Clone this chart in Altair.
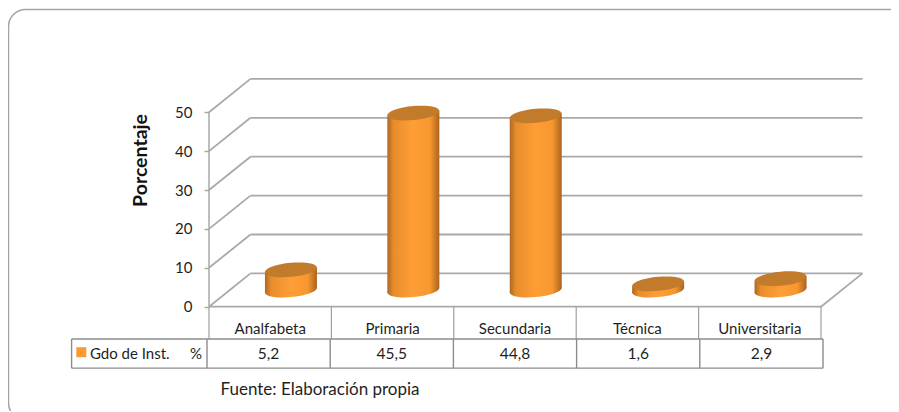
import altair as alt
import pandas as pd

categories = ["Analfabeta", "Primaria", "Secundaria", "Técnica", "Universitaria"]
values = [5.2, 45.5, 44.8, 1.6, 2.9]
value_labels = ["5,2", "45,5", "44,8", "1,6", "2,9"]
ticks = [0, 10, 20, 30, 40, 50]

W, H = 883, 403
UX, UY = 122.4, 3.89          # px per category slot / per percent
X0, Y0 = 201.0, 298.7         # canvas position of slot 0 / value 0
DX, DY = 41.5 / UX, 33.3 / UY  # depth of the floor, in data units
xs = alt.Scale(domain=[-X0 / UX, (W - X0) / UX], range=[0, W], nice=False, zero=False)
ys = alt.Scale(domain=[-(H - Y0) / UY, Y0 / UY], range=[H, 0], nice=False, zero=False)
GRID = "#a9a9a9"
FONT = "Lato"
TXT = "#1f1f1f"
HALF = 26 / UX
TILT = 2.4 / UY


def ellipse_path(s=0.09, b=0.27, k=0.5523):
    def p(x, y):
        return f"{x:.4f},{y - s * x:.4f}"
    return ("M" + p(-1, 0) + "C" + p(-1, -k * b) + " " + p(-k, -b) + " " + p(0, -b)
            + "C" + p(k, -b) + " " + p(1, -k * b) + " " + p(1, 0)
            + "C" + p(1, k * b) + " " + p(k, b) + " " + p(0, b)
            + "C" + p(-k, b) + " " + p(-1, k * b) + " " + p(-1, 0) + "Z")


ELL = ellipse_path()
grad = alt.LinearGradient(
    gradient="linear", x1=0, x2=1, y1=0, y2=0,
    stops=[
        alt.GradientStop(color="#ad6821", offset=0),
        alt.GradientStop(color="#e88d2d", offset=0.12),
        alt.GradientStop(color="#ff9e35", offset=0.5),
        alt.GradientStop(color="#f7972f", offset=0.82),
        alt.GradientStop(color="#a9641f", offset=1),
    ],
)


def X(f="x", **k):
    return alt.X(f, type="quantitative", scale=xs, axis=None, **k)


def Y(f="y", **k):
    return alt.Y(f, type="quantitative", scale=ys, axis=None, **k)


frame = alt.Chart(pd.DataFrame({"a": [1]})).mark_rect(
    fillOpacity=0, stroke="#a4a4a4", strokeWidth=1.5, cornerRadius=17
).encode(x=alt.value(0.5), x2=alt.value(904), y=alt.value(1.5), y2=alt.value(412))

back = pd.DataFrame({"x": [DX] * len(ticks), "x2": [5 + DX] * len(ticks), "y": [t + DY for t in ticks]})
back_rules = alt.Chart(back).mark_rule(color=GRID, strokeWidth=1.8).encode(
    x=X(), x2="x2", y=Y())

side = pd.DataFrame({"x": [0.0] * len(ticks), "x2": [DX] * len(ticks),
                     "y": [float(t) for t in ticks], "y2": [t + DY for t in ticks]})
side_rules = alt.Chart(side).mark_rule(color=GRID, strokeWidth=1.8).encode(
    x=X(), x2="x2", y=Y(), y2="y2")

right_floor = alt.Chart(pd.DataFrame({"x": [5.0], "x2": [5 + DX], "y": [0.0], "y2": [DY]})).mark_rule(
    color=GRID, strokeWidth=1.8).encode(x=X(), x2="x2", y=Y(), y2="y2")
wall = alt.Chart(pd.DataFrame({"x": [0.0], "y": [0.0], "y2": [50.0]})).mark_rule(
    color=GRID, strokeWidth=1.5).encode(x=X(), y=Y(), y2="y2")
front = alt.Chart(pd.DataFrame({"x": [0.0], "x2": [5.0], "y": [0.0]})).mark_rule(
    color=GRID, strokeWidth=1.8).encode(x=X(), x2="x2", y=Y())

# table
ROW1, ROW2 = -8.3, -15.8
TX0, TX1 = -137.4 / UX, 5 + 2 / UX
TS = 123.2 / 122.4
cat_lines = alt.Chart(pd.DataFrame({"x": [float(i) for i in range(6)], "y": [0.0] * 6, "y2": [ROW1] * 6})).mark_rule(
    color="#a0a0a0", strokeWidth=1.2).encode(x=X(), y=Y(), y2="y2")
row_edges = [TX0] + [-2 / UX + i * TS for i in range(6)]
row_lines = alt.Chart(pd.DataFrame({"x": row_edges, "y": [ROW1] * 7, "y2": [ROW2] * 7})).mark_rule(
    color="#8c8c8c", strokeWidth=1.4).encode(x=X(), y=Y(), y2="y2")
row_h = alt.Chart(pd.DataFrame({"x": [TX0, TX0], "x2": [TX1, TX1], "y": [ROW1, ROW2]})).mark_rule(
    color="#8c8c8c", strokeWidth=1.4).encode(x=X(), x2="x2", y=Y())

df = pd.DataFrame({"name": categories, "v": values, "lab": value_labels})
df["x"] = [i + 0.5 + DX / 2 for i in range(5)]
df["base"] = DY / 2
df["top"] = df["v"] + DY / 2
df["cx"] = [i + 0.5 for i in range(5)]
df["cy"] = (ROW1 / 2) - 1.5
df["rx"] = [-2 / UX + (i + 0.5) * TS for i in range(5)]
df["ry"] = (ROW1 + ROW2) / 2 - 0.1

body_rows = []
for _, r in df.iterrows():
    body_rows.append({"name": r["name"], "x": r["x"] - HALF, "y": r["top"] - TILT, "y2": r["base"] - TILT})
    body_rows.append({"name": r["name"], "x": r["x"] + HALF, "y": r["top"] + TILT, "y2": r["base"] + TILT})
bodies = alt.Chart(pd.DataFrame(body_rows)).mark_area(fill=grad, opacity=1).encode(
    x=X(), y=Y(), y2="y2", detail="name:N")

bottoms = alt.Chart(df).mark_point(shape=ELL, size=52 * 52, filled=True, fill=grad, opacity=1, strokeWidth=0).encode(
    x=X(), y=Y("base"))
tops = alt.Chart(df).mark_point(shape=ELL, size=52 * 52, filled=True, fill="#c27a2b", opacity=1, strokeWidth=0).encode(
    x=X(), y=Y("top"))

cat_text = alt.Chart(df).mark_text(font=FONT, fontSize=15, color=TXT).encode(
    x=X("cx"), y=Y("cy"), text="name:N")
val_text = alt.Chart(df).mark_text(font=FONT, fontSize=15.5, color=TXT).encode(
    x=X("rx"), y=Y("ry"), text="lab:N")

leg = pd.DataFrame({"x": [-127.7 / UX], "y": [(ROW1 + ROW2) / 2 + 0.35]})
key = alt.Chart(leg).mark_square(size=100, color="#fb9a32", opacity=1).encode(x=X(), y=Y())
leg_txt = alt.Chart(pd.DataFrame({"x": [-119.0 / UX], "y": [(ROW1 + ROW2) / 2 - 0.1], "t": ["Gdo de Inst."]})).mark_text(
    font=FONT, fontSize=15, color=TXT, align="left").encode(x=X(), y=Y(), text="t:N")
pct_txt = alt.Chart(pd.DataFrame({"x": [-7.0 / UX], "y": [(ROW1 + ROW2) / 2 - 0.1], "t": ["%"]})).mark_text(
    font=FONT, fontSize=15, color=TXT, align="right").encode(x=X(), y=Y(), text="t:N")
source = alt.Chart(pd.DataFrame({"x": [11.5 / UX], "y": [-21.5], "t": ["Fuente: Elaboración propia"]})).mark_text(
    font=FONT, fontSize=17, color=TXT, align="left").encode(x=X(), y=Y(), text="t:N")

axis_layer = alt.Chart(pd.DataFrame({"y": [float(t) for t in ticks]})).mark_point(opacity=0).encode(
    y=alt.Y("y", type="quantitative", scale=ys, axis=alt.Axis(
        values=ticks, offset=-X0, domain=False, grid=False, tickColor=GRID, tickSize=5, tickWidth=1.5,
        labelFont=FONT, labelFontSize=15, labelColor=TXT, labelPadding=12, labelBaseline="middle",
        title="Porcentaje", titleFont=FONT, titleFontSize=19.5, titleFontWeight="bold", titleColor="#111111",
        titleX=-69, titleY=152, titleAngle=270, titleBaseline="middle", titleAlign="center",
    )),
)

chart = alt.layer(
    frame, axis_layer, back_rules, side_rules, right_floor, wall, front, cat_lines, row_lines, row_h,
    bottoms, bodies, tops, cat_text, val_text, key, leg_txt, pct_txt, source,
).properties(
    width=W, height=H, padding=0, autosize=alt.AutoSizeParams(type="none"), background="white",
).resolve_axis(y="independent", x="independent").configure_view(stroke=None)

chart.save("out.html", embed_options={"renderer": "svg", "actions": False})
